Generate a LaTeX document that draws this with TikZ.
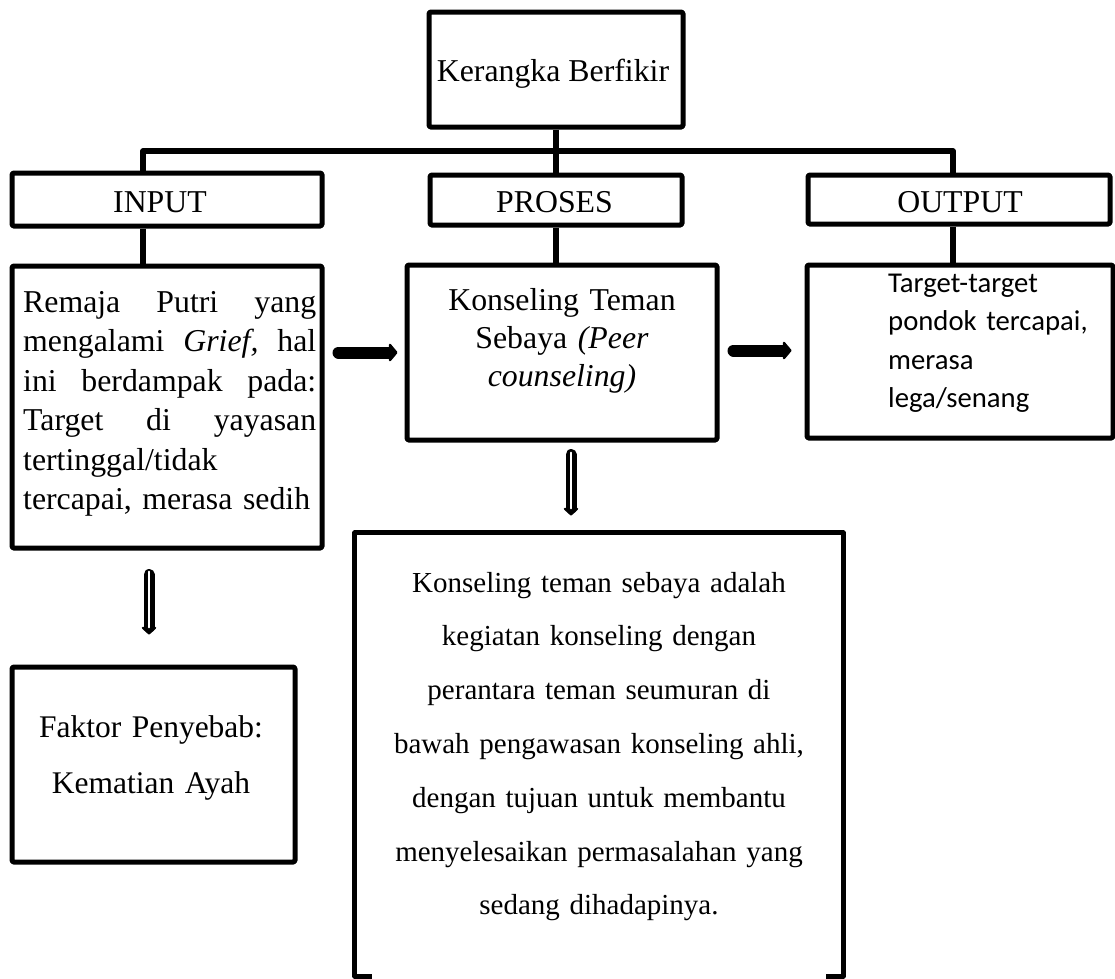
\documentclass[tikz,border=0pt]{standalone}
\usepackage{fontspec}
\setmainfont{Liberation Serif}
\newfontfamily\calfont{Carlito}
\usetikzlibrary{arrows.meta,calc}
\setlength{\parindent}{0pt}
\begin{document}
\begin{tikzpicture}[x=1pt,y=-1pt,line join=round,
  frame/.style={draw, line width=5pt, rounded corners=1.5pt, inner sep=0pt},
  conn/.style={line width=5.5pt},
  tx/.style={inner sep=0pt, font=\fontsize{31.8}{38}\selectfont},
  fatarrow/.style={line width=12pt, line cap=round, -{Triangle[width=21pt,length=9pt,round]}},
  hollowout/.style={line width=11pt, line cap=round, -{Triangle[width=17pt,length=8pt,round]}},
  hollowin/.style={line width=1.8pt, white, line cap=round}]
\useasboundingbox (0,0) rectangle (1115,978);

% header boxes
\node[frame, minimum width=254pt, minimum height=115pt] (top) at (556,69.5) {};
\node[tx, anchor=base] (toptxt) at (553,81) {Kerangka Berfikir};
\node[frame, minimum width=310pt, minimum height=53pt] (input) at (167,199.5) {};
\node[tx, anchor=base] (inputtxt) at (160,212) {INPUT};
\node[frame, minimum width=252pt, minimum height=50pt] (proses) at (556,200) {};
\node[tx, anchor=base] (prosestxt) at (554.5,212) {PROSES};
\node[frame, minimum width=302pt, minimum height=49pt] (output) at (959,199.5) {};
\node[tx, anchor=base] (outputtxt) at (960,212) {OUTPUT};

% content boxes
\node[frame, minimum width=310pt, minimum height=282pt] (inbox) at (167,407) {};
\node[tx, anchor=base west, text width=293pt, align=left, font=\fontsize{31.8}{39.5}\selectfont] (intxt) at (23,312)
  {Remaja\hfill Putri\hfill yang\\ mengalami\hfill \textit{Grief,}\hfill hal\\ ini\hfill berdampak\hfill pada:\\ Target\hfill di\hfill yayasan\\ tertinggal/tidak\\ tercapai, merasa sedih};

\node[frame, minimum width=310pt, minimum height=175pt] (midbox) at (562,352.5) {};
\node[tx, anchor=base, text width=300pt, align=center] (midtxt) at (562,310)
  {Konseling Teman\\ Sebaya \textit{(Peer}\\ \textit{counseling)}};

\node[frame, minimum width=306pt, minimum height=173pt] (outbox) at (960,351.5) {};
\node[inner sep=0pt, anchor=base west, text width=220pt, align=left, font=\calfont\fontsize{28.7}{38.5}\selectfont] (outtxt) at (888,292)
  {Target-target\\ pondok tercapai,\\ merasa\\ lega/senang};

\node[frame, minimum width=283pt, minimum height=195pt] (cause) at (153.5,764.5) {};
\node[tx, anchor=base, text width=270pt, align=center, font=\fontsize{31.5}{56}\selectfont] (causetxt) at (151,737)
  {Faktor Penyebab:\\ Kematian Ayah};

\node[inner sep=0pt, minimum width=488pt, minimum height=443pt] (big) at (599,754.5) {};
\draw[line width=5pt] ($(big.south west)+(17,0)$) -- (big.south west) -- (big.north west) -- (big.north east) -- (big.south east) -- ($(big.south east)+(-17,0)$);
\node[tx, anchor=base, text width=480pt, align=center, font=\fontsize{29}{53.8}\selectfont] (bigtxt) at (599,592)
  {Konseling teman sebaya adalah\\ kegiatan konseling dengan\\ perantara teman seumuran di\\ bawah pengawasan konseling ahli,\\ dengan tujuan untuk membantu\\ menyelesaikan permasalahan yang\\ sedang dihadapinya.};

% connectors
\coordinate (hl) at (143,151);
\coordinate (hr) at (953,151);
\draw[conn] (top.south) -- (proses.north);
\draw[conn] (input.north -| hl) -- (hl) -- (hr) -- (output.north -| hr);
\draw[conn] (input.south -| hl) -- (inbox.north -| hl);
\draw[conn] (proses.south) -- (proses.south |- midbox.north);
\draw[conn] (output.south -| hr) -- (outbox.north -| hr);

% arrows
\draw[fatarrow] ($(inbox.east |- midbox.west)+(14,0)$) -- ($(midbox.west)+(-7,0)$);
\draw[fatarrow] ($(midbox.east)+(14,-2)$) -- ($(outbox.west |- midbox.east)+(-13,-2)$);

\draw[hollowout] ($(midbox.south)+(9,12)$) -- ($(midbox.south)+(9,73)$);
\draw[hollowin] ($(midbox.south)+(9,10)$) -- ($(midbox.south)+(9,66)$);

\draw[hollowout] ($(cause.north)+(-4.5,-90)$) -- ($(cause.north)+(-4.5,-30)$);
\draw[hollowin] ($(cause.north)+(-4.5,-93)$) -- ($(cause.north)+(-4.5,-37)$);
\end{tikzpicture}
\end{document}
